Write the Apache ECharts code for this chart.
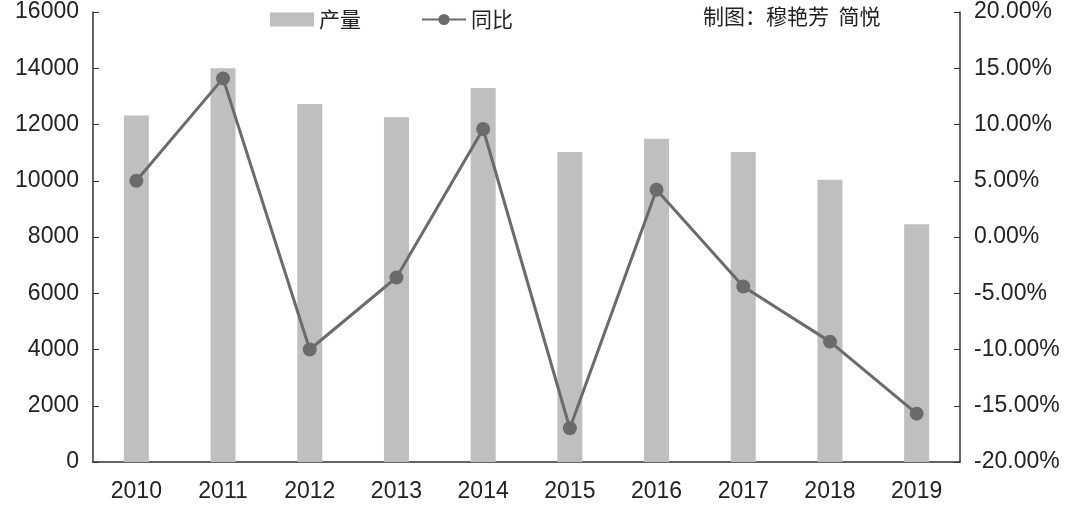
<!DOCTYPE html>
<html>
<head>
<meta charset="utf-8">
<script src="https://cdn.jsdelivr.net/npm/echarts@6/dist/echarts.min.js"></script>
<style>html,body{margin:0;background:#fff}#c{width:1080px;height:508px}</style>
</head>
<body>
<div id="c"></div>
<script>
// 年份与数据
var years = ['2010','2011','2012','2013','2014','2015','2016','2017','2018','2019'];
var output = [12320, 14000, 12730, 12260, 13300, 11020, 11490, 11020, 10040, 8450];
var yoy = [5.0, 14.1, -10.0, -3.6, 9.6, -17.0, 4.2, -4.4, -9.3, -15.7];

var chart = echarts.init(document.getElementById('c'));
var cjk = '"Noto Sans CJK SC", sans-serif';
var num = '"Liberation Sans", Arial, sans-serif';
chart.setOption({
    textStyle: { fontFamily: num },
    animation: false,
    grid: { left: 93, right: 120, top: 12, bottom: 46 },
    legend: {
        top: 4, left: 265, itemGap: 60, itemWidth: 44, itemHeight: 14,
        textStyle: { fontSize: 21, color: '#222', fontFamily: cjk },
        data: [{ name: '产量', icon: 'rect' }, { name: '同比' }]
    },
    graphic: [{ type: 'text', left: 703, top: 6,
        style: { text: '制图：穆艳芳  简悦', fontSize: 21, fill: '#222', fontFamily: cjk } }],
    xAxis: {
        type: 'category', data: years,
        axisLine: { lineStyle: { color: '#333', width: 1.5 } },
        axisTick: { show: false },
        axisLabel: { fontSize: 23, color: '#222', margin: 18, fontFamily: num }
    },
    yAxis: [{
        type: 'value', min: 0, max: 16000, interval: 2000,
        axisLine: { show: true, lineStyle: { color: '#333', width: 1.5 } },
        axisTick: { show: true, inside: true, length: 6 },
        splitLine: { show: false },
        axisLabel: { fontSize: 23, color: '#222', margin: 14, fontFamily: num,
            formatter: function (v) { return String(v); } }
    }, {
        type: 'value', min: -20, max: 20, interval: 5,
        axisLine: { show: true, lineStyle: { color: '#333', width: 1.5 } },
        axisTick: { show: true, inside: true, length: 6 },
        splitLine: { show: false },
        axisLabel: { fontSize: 23, color: '#222', margin: 14, fontFamily: num,
            formatter: function (v) { return v.toFixed(2) + '%'; } }
    }],
    series: [{
        name: '产量', type: 'bar', data: output, barWidth: 25,
        itemStyle: { color: '#bfbfbf' }
    }, {
        name: '同比', type: 'line', yAxisIndex: 1, data: yoy,
        symbol: 'circle', symbolSize: 14,
        lineStyle: { color: '#6b6b6b', width: 3 },
        itemStyle: { color: '#6b6b6b' }
    }]
});
</script>
</body>
</html>
